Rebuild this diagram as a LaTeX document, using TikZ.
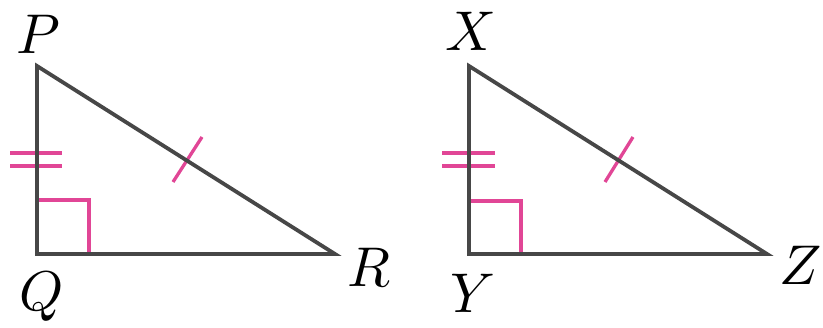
\documentclass[tikz,border=0pt]{standalone}
\newcommand{\biglab}[1]{\scalebox{5.6}{$#1$}}
\begin{document}
\begin{tikzpicture}[x=1pt,y=-1pt,
  side/.style={draw=black!72,line width=3.8pt,line join=miter},
  pinkmark/.style={draw={rgb,255:red,225;green,70;blue,150},line width=3.3pt},
  lab/.style={inner sep=0pt}]
\useasboundingbox (0,0) rectangle (823,328);
% triangle PQR
\coordinate (P) at (37,66);
\coordinate (Q) at (37,254);
\coordinate (R) at (335,254);
\draw[pinkmark] (37,200) -- (89,200) -- (89,254);
\draw[pinkmark] (10,153) -- (62,153) (10,166) -- (62,166);
\draw[pinkmark] (173,182) -- (202,137);
\draw[side] (P) -- (Q) -- (R) -- cycle;
\node[lab] (lP) at (38,34) {\biglab{P}};
\node[lab] (lQ) at (42,297) {\biglab{Q}};
\node[lab] (lR) at (369,267) {\biglab{R}};
% triangle XYZ
\coordinate (X) at (469,66);
\coordinate (Y) at (469,254);
\coordinate (Z) at (767,254);
\draw[pinkmark] (469,201) -- (521,201) -- (521,254);
\draw[pinkmark] (442,153) -- (495,153) (442,166) -- (495,166);
\draw[pinkmark] (605,182) -- (633,137);
\draw[side] (X) -- (Y) -- (Z) -- cycle;
\node[lab] (lX) at (471,31) {\biglab{X}};
\node[lab] (lY) at (473,293) {\biglab{Y}};
\node[lab] (lZ) at (801,265) {\biglab{Z}};
\end{tikzpicture}
\end{document}
